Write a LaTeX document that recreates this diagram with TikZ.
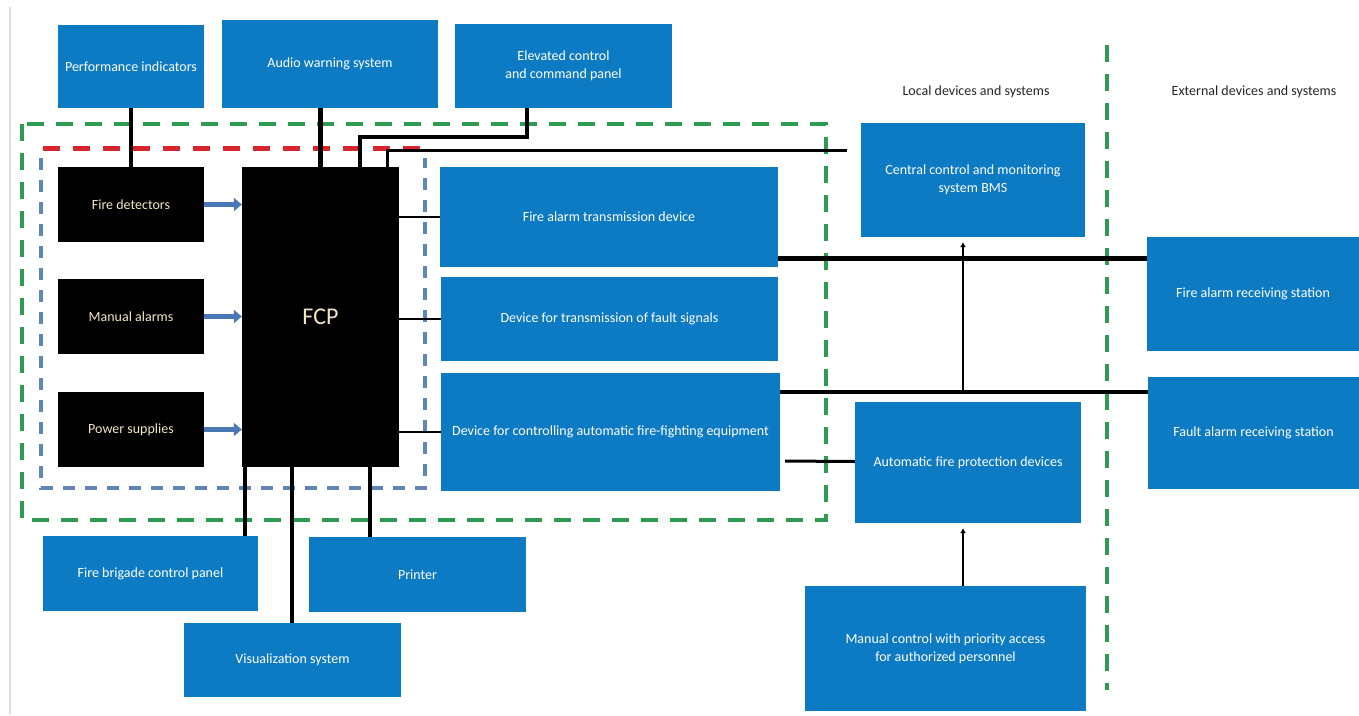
\documentclass[tikz,border=0pt]{standalone}
\usepackage{fontspec}
\setmainfont{Carlito}
\usetikzlibrary{arrows.meta}
\definecolor{boxblue}{HTML}{0C7BC3}
\definecolor{beige}{HTML}{F2E6C4}
\definecolor{dgreen}{HTML}{2E9A52}
\definecolor{dred}{HTML}{D9252E}
\definecolor{dblue}{HTML}{5E87B6}
\definecolor{arrblue}{HTML}{4A78B5}
\begin{document}
\begin{tikzpicture}[x=1pt,y=-1pt,
  wh/.style 2 args={minimum width=#1, minimum height=#2},
  bluebox/.style={fill=boxblue, draw=none, text=white, inner sep=0pt, align=center, font=\fontsize{14}{18}\selectfont},
  blackbox/.style={fill=black, draw=none, text=beige, inner sep=0pt, align=center, font=\fontsize{14}{18}\selectfont},
  title/.style={text=black!85, inner sep=0pt, font=\fontsize{14}{18}\selectfont},
  thick conn/.style={draw=black, line width=4.5pt},
  mid conn/.style={draw=black, line width=3pt},
  thin conn/.style={draw=black, line width=2pt},
  inarrow/.style={draw=arrblue, line width=5.5pt, -{Triangle[length=8pt,width=13pt]}},
  smallarrow/.style={draw=black, line width=2pt, -{Latex[length=5pt,width=6pt]}},
  gdash/.style={draw=dgreen, line width=4pt, dash pattern=on 17pt off 12pt},
  rdash/.style={draw=dred, line width=5pt, dash pattern=on 17pt off 13pt},
  bdash/.style={draw=dblue, line width=4pt, dash pattern=on 12pt off 10pt}
]
\useasboundingbox[fill=white] (0,0) rectangle (1359,715);
\draw[black!13, line width=2pt] (10,7) -- (10,715);

% dashed frames
\draw[gdash] (22,124) rectangle (826,520);
\draw[bdash] (41,158) -- (41,488) -- (425,488) -- (425,158);
\draw[rdash] (43,148) -- (428,148);
\draw[gdash] (1107,45) -- (1107,690);

% titles
\node[title] (tlocal) at (976,92) {Local devices and systems};
\node[title] (text) at (1254,92) {External devices and systems};

% top boxes
\node[bluebox, wh={146}{83}] (perf) at (131,66.5) {Performance indicators};
\node[bluebox, wh={216}{88}] (audio) at (330,64) {Audio warning system};
\node[bluebox, wh={217}{84}] (elev) at (563.5,66) {Elevated control\\and command panel};

% inputs and FCP
\node[blackbox, wh={146}{75}] (det) at (131,204.5) {Fire detectors};
\node[blackbox, wh={146}{75}] (man) at (131,316.5) {Manual alarms};
\node[blackbox, wh={146}{75}] (pow) at (131,429.5) {Power supplies};
\node[blackbox, wh={157}{300}, font=\fontsize{24}{28}\selectfont] (fcp) at (320.5,317) {FCP};

% output devices
\node[bluebox, wh={338}{100}] (fatd) at (609,217) {Fire alarm transmission device};
\node[bluebox, wh={337}{84}] (fault) at (609.5,319) {Device for transmission of fault signals};
\node[bluebox, wh={339}{118}] (ctrl) at (610.5,432) {Device for controlling automatic fire-fighting equipment};

% local devices
\node[bluebox, wh={224}{114}] (bms) at (973,180) {Central control and monitoring\\system BMS};
\node[bluebox, wh={226}{121}] (afp) at (968,462.5) {Automatic fire protection devices};
\node[bluebox, wh={281}{125}] (manual) at (945.5,648.5) {Manual control with priority access\\for authorized personnel};

% external devices
\node[bluebox, wh={212}{114}] (fars) at (1253,294) {Fire alarm receiving station};
\node[bluebox, wh={211}{112}] (faultrs) at (1253.5,433) {Fault alarm receiving station};

% bottom boxes
\node[bluebox, wh={215}{75}] (brig) at (150.5,573.5) {Fire brigade control panel};
\node[bluebox, wh={217}{75}] (printer) at (417.5,574.5) {Printer};
\node[bluebox, wh={217}{74}] (vis) at (292.5,660) {Visualization system};

% input arrows
\draw[inarrow] (det.east) -- (det.east -| fcp.west);
\draw[inarrow] (man.east) -- (man.east -| fcp.west);
\draw[inarrow] (pow.east) -- (pow.east -| fcp.west);

% top connectors
\draw[thick conn] (perf.south) -- (det.north);
\draw[thick conn] (fcp.north) -- (fcp.north |- audio.south);
\draw[thick conn] ([xshift=-36.5pt]elev.south) -- ++(0,29) -| ([xshift=39.5pt]fcp.north);
\draw[mid conn, shorten >=14pt] ([xshift=66.5pt]fcp.north) |- ([yshift=30pt]bms.west);

% FCP to output devices
\draw[thin conn] (fcp.east |- fatd.west) -- (fatd.west);
\draw[thin conn] (fcp.east |- fault.west) -- (fault.west);
\draw[thin conn] (fcp.east |- ctrl.west) -- (ctrl.west);

% FCP to bottom boxes
\draw[thick conn] ([xshift=-75.5pt]fcp.south) -- ([xshift=94.5pt]brig.north);
\draw[thick conn] ([xshift=-28.5pt]fcp.south) -- ([xshift=-0.5pt]vis.north);
\draw[thick conn] ([xshift=49.5pt]fcp.south) -- ([xshift=-47.5pt]printer.north);

% to external and local devices
\draw[draw=black, line width=5pt] ([yshift=-41pt]fatd.east) -- ([yshift=36pt]fars.west);
\draw[draw=black, line width=3.5pt] ([yshift=40pt]ctrl.east) -- ([yshift=41pt]faultrs.west);
\draw[mid conn, shorten <=5pt] ([yshift=-29pt]ctrl.east) -- ([yshift=1pt]afp.west);
\coordinate (j1) at (963,392);
\draw[smallarrow, shorten >=5pt] (j1) -- ([xshift=-10pt]bms.south);
\draw[smallarrow, shorten >=5pt] ([xshift=17.5pt]manual.north) -- ([xshift=-5pt]afp.south);
\end{tikzpicture}
\end{document}
